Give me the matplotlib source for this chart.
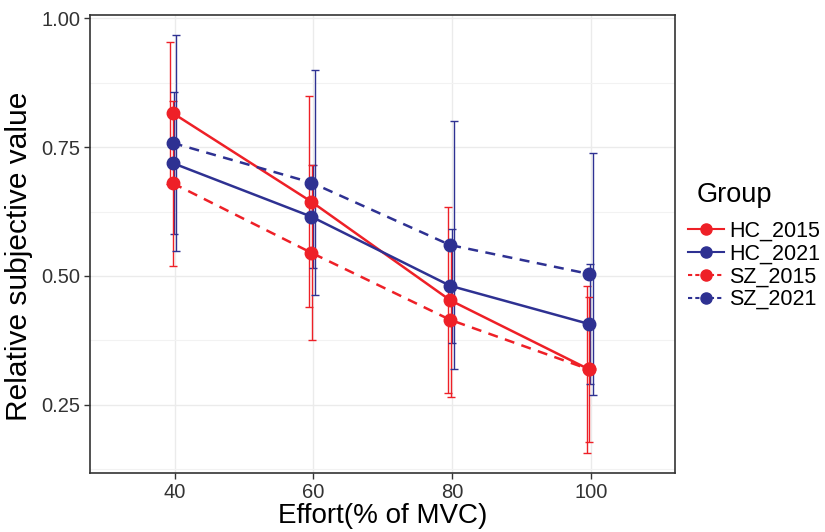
import matplotlib
matplotlib.use("Agg")
import matplotlib.pyplot as plt
from matplotlib.lines import Line2D

plt.rcParams['font.family'] = ['Liberation Sans', 'DejaVu Sans']

# --- data ---
effort = [40, 60, 80, 100]
groups = ['HC_2015', 'HC_2021', 'SZ_2015', 'SZ_2021']
hc_2015 = [0.816, 0.644, 0.453, 0.319]
hc_2021 = [0.719, 0.615, 0.481, 0.407]
sz_2015 = [0.680, 0.545, 0.415, 0.319]
sz_2021 = [0.758, 0.681, 0.560, 0.504]
hc_2015_err = [0.137, 0.204, 0.180, 0.162]
hc_2021_err = [0.137, 0.100, 0.110, 0.116]
sz_2015_err = [0.160, 0.170, 0.150, 0.140]
sz_2021_err = [0.209, 0.218, 0.240, 0.235]

RED = '#EE2027'
BLUE = '#2E3192'

series = [
    (hc_2015, hc_2015_err, RED, '-', -0.6),
    (hc_2021, hc_2021_err, BLUE, '-', -0.1),
    (sz_2015, sz_2015_err, RED, (0, (4, 3)), -0.25),
    (sz_2021, sz_2021_err, BLUE, (0, (4, 3)), 0.25),
]

fig = plt.figure(figsize=(8.25, 5.32), dpi=100)
ax = fig.add_axes([90 / 825, 1 - 473 / 532, 585 / 825, 458 / 532])

# error bars (slightly dodged, like position_dodge in ggplot)
for vals, err, col, ls, dx in series:
    ax.errorbar([x + dx for x in effort], vals, yerr=err, fmt='none',
                ecolor=col, elinewidth=1.0, capsize=3, capthick=1.0, zorder=3)

# lines + points
for vals, err, col, ls, dx in series:
    ax.plot([x - 0.3 for x in effort], vals, color=col, linestyle=ls,
            linewidth=1.8, zorder=4)
    ax.plot([x - 0.3 for x in effort], vals, 'o', color=col,
            markersize=9, zorder=5)

ax.set_xlim(27.8, 112.1)
ax.set_ylim(0.118, 1.006)
ax.set_xticks(effort)
ax.set_yticks([0.25, 0.50, 0.75, 1.00])
ax.set_yticklabels(['0.25', '0.50', '0.75', '1.00'])
ax.set_yticks([0.125, 0.375, 0.625, 0.875], minor=True)
ax.grid(True, which='major', color='#EBEBEB', linewidth=1.0, zorder=0)
ax.grid(True, which='minor', axis='y', color='#F2F2F2', linewidth=0.8, zorder=0)
ax.set_axisbelow(True)
ax.tick_params(which='minor', length=0)
ax.tick_params(which='major', direction='out', length=4, width=1,
               color='#333333', labelsize=14.5, labelcolor='#333333', pad=3)
for sp in ax.spines.values():
    sp.set_color('#333333')
    sp.set_linewidth(1.2)

ax.set_xlabel('Effort(% of MVC)', fontsize=20, labelpad=1)
ax.set_ylabel('Relative subjective value', fontsize=21.5)
ax.yaxis.set_label_coords(-0.097, 0.474)

# legend: title drawn separately so the gap matches ggplot's layout
fig.text(697 / 825, 1 - 195 / 532, 'Group', fontsize=19.5, va='center', ha='left')
handles = []
for vals, err, col, ls, dx in series:
    handles.append(Line2D([0], [0], color=col, linestyle=ls if ls == '-' else (0, (2, 1.5)),
                          linewidth=1.5, marker='o', markersize=8))
leg = fig.legend(handles, groups, loc='upper left',
                 bbox_to_anchor=(688 / 825, 1 - 221 / 532), frameon=False,
                 fontsize=15.5, handlelength=1.65, borderpad=0,
                 handletextpad=0.25, labelspacing=0.08, borderaxespad=0)

fig.savefig('out.png', dpi=100)
